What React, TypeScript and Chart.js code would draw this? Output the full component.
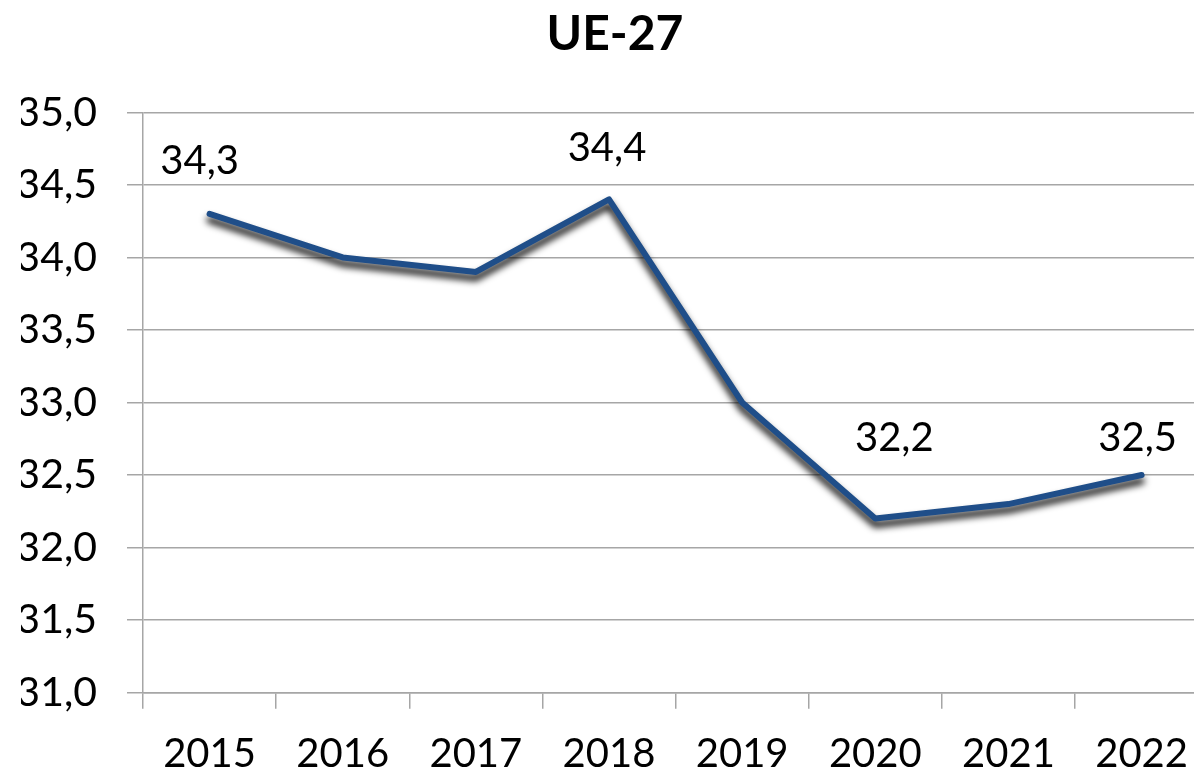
import React, { useEffect, useRef } from "react";
import { Chart, registerables } from "chart.js";

Chart.register(...registerables);

const TITLE = "UE-27";
const YEARS = ["2015", "2016", "2017", "2018", "2019", "2020", "2021", "2022"];
const VALUES = [34.3, 34.0, 33.9, 34.4, 33.0, 32.2, 32.3, 32.5];
const Y_MIN = 31;
const Y_MAX = 35;
const Y_STEP = 0.5;
// indices of points that carry a value label
const LABELED_POINTS = [0, 3, 5, 7];

const FONT = "Lato, 'Open Sans', sans-serif";
const GRID = "#a6a6a6";
const LINE = "#1F4E89";

// label placement relative to its point (style only)
const LABEL_SHIFT: Record<number, [number, number]> = {
  0: [-10, -54],
  3: [-2, -52],
  5: [19, -82],
  7: [-4, -38],
};

const fmt = (v: number) => v.toFixed(1).replace(".", ",");

export default function App() {
  const ref = useRef<HTMLCanvasElement | null>(null);

  useEffect(() => {
    const canvas = ref.current;
    if (!canvas) return;

    const shadowPlugin = {
      id: "lineShadow",
      beforeDatasetsDraw(chart: any) {
        const ctx = chart.ctx;
        ctx.save();
        ctx.shadowColor = "rgba(0,0,0,1)";
        ctx.shadowBlur = 7;
        ctx.shadowOffsetX = 0;
        ctx.shadowOffsetY = 6;
      },
      afterDatasetsDraw(chart: any) {
        const ctx = chart.ctx;
        ctx.restore();
        const meta = chart.getDatasetMeta(0);
        ctx.save();
        ctx.font = `40px ${FONT}`;
        ctx.fillStyle = "#000";
        ctx.textAlign = "center";
        ctx.textBaseline = "alphabetic";
        LABELED_POINTS.forEach((i) => {
          const pt = meta.data[i];
          const [dx, dy] = LABEL_SHIFT[i] || [0, -45];
          ctx.fillText(fmt(VALUES[i]), pt.x + dx, pt.y + dy + 14);
        });
        ctx.restore();
      },
    };

    const chart = new Chart(canvas, {
      type: "line",
      data: {
        labels: YEARS,
        datasets: [
          {
            data: VALUES,
            borderColor: LINE,
            borderWidth: 6,
            pointRadius: 0,
            pointHoverRadius: 0,
            tension: 0,
            fill: false,
            borderCapStyle: "round",
            borderJoinStyle: "round",
          },
        ],
      },
      options: {
        responsive: false,
        animation: false,
        devicePixelRatio: 1,
        layout: { padding: { top: 0, left: 21, right: 0, bottom: 0 } },
        plugins: {
          legend: { display: false },
          tooltip: { enabled: false },
          title: {
            display: true,
            text: TITLE,
            color: "#000",
            font: { family: FONT, size: 48, weight: "bold" },
            padding: { top: 6, bottom: 48.7 },
          },
        },
        scales: {
          x: {
            type: "category",
            offset: true,
            grid: {
              offset: true,
              drawOnChartArea: false,
              drawTicks: true,
              tickLength: 16,
              color: GRID,
              lineWidth: 1.5,
            },
            border: { display: true, color: GRID, width: 1.5 },
            ticks: {
              color: "#000",
              font: { family: FONT, size: 40 },
              padding: 21,
              maxRotation: 0,
              autoSkip: false,
            },
            afterFit(scale: any) {
              scale.height = 80.3;
            },
          },
          y: {
            min: Y_MIN,
            max: Y_MAX,
            grid: {
              color: GRID,
              lineWidth: 1.5,
              drawTicks: true,
              tickLength: 16,
            },
            border: { display: true, color: GRID, width: 1.5 },
            ticks: {
              stepSize: Y_STEP,
              color: "#000",
              font: { family: FONT, size: 41 },
              padding: 30,
              callback: (v: any) => fmt(Number(v)),
            },
            afterFit(scale: any) {
              scale.width = 122;
            },
          },
        },
      },
      plugins: [shadowPlugin],
    } as any);

    return () => chart.destroy();
  }, []);

  return (
    <div
      style={{
        position: "absolute",
        left: 0,
        top: 0,
        width: 1194,
        height: 773,
        overflow: "hidden",
        background: "#fff",
      }}
    >
      <canvas ref={ref} width={1209} height={773} style={{ width: 1209, height: 773, display: "block" }} />
    </div>
  );
}
